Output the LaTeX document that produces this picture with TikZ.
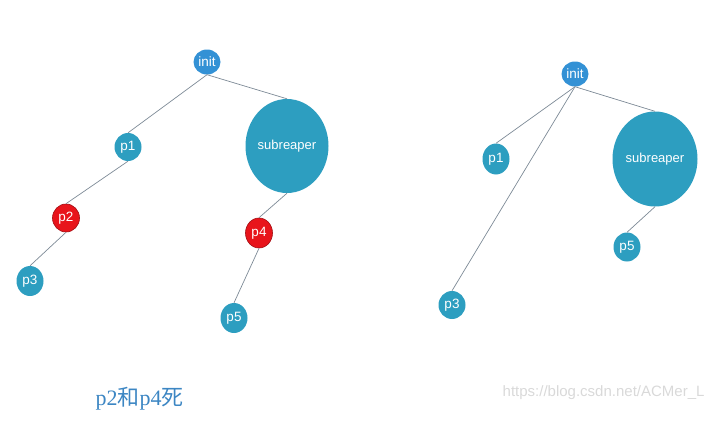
\documentclass[tikz,border=0pt]{standalone}
\usepackage{fontspec}
\setmainfont{Liberation Sans}
\newfontfamily\cjk{Noto Sans CJK SC}
\newfontfamily\capserif{Liberation Serif}
\usepackage{xcolor}
\usetikzlibrary{shapes.geometric}
\definecolor{initblue}{HTML}{3391D5}
\definecolor{procteal}{HTML}{2D9EC0}
\definecolor{deadred}{HTML}{E8141B}
\definecolor{edgegray}{HTML}{7D8A96}
\definecolor{captionblue}{HTML}{3C86C3}

\begin{document}
\begin{tikzpicture}[x=1pt, y=-1pt,
	proc/.style={ellipse, fill=procteal, text=white, inner sep=0pt,
		minimum width=27pt, minimum height=28pt, font=\fontsize{13.5}{13.5}\selectfont},
	initproc/.style={proc, fill=initblue, minimum height=25pt},
	deadproc/.style={proc, fill=deadred, draw=deadred!70!black, line width=0.6pt},
	bigproc/.style={proc, minimum width=83pt, minimum height=94pt, font=\fontsize{13}{13}\selectfont},
	link/.style={draw=edgegray, line width=0.7pt}]
	\useasboundingbox (0,0) rectangle (721,423);
	
	% before: p2 and p4 still alive
	\node[initproc] (initA) at (207,62) {init};
	\node[proc] (p1A) at (128,147) {p1};
	\node[bigproc] (subA) at (287,146) {subreaper};
	\node[deadproc] (p2A) at (66,218) {p2};
	\node[deadproc, minimum height=30pt] (p4A) at (259,233) {p4};
	\node[proc, minimum height=30pt] (p3A) at (30,281) {p3};
	\node[proc, minimum height=30pt] (p5A) at (234,318) {p5};
	\draw[link] (initA.south) -- (p1A.north);
	\draw[link] (initA.south) -- (subA.north);
	\draw[link] (p1A.south) -- (p2A.north);
	\draw[link] (p2A.south) -- (p3A.north);
	\draw[link] (subA.south) -- (p4A.north);
	\draw[link] (p4A.south) -- (p5A.north);
	
	% after: orphans reparented
	\node[initproc] (initB) at (575,74) {init};
	\node[proc, minimum height=31pt] (p1B) at (496,159) {p1};
	\node[bigproc, minimum width=85pt, minimum height=95pt] (subB) at (655,159) {subreaper};
	\node[proc, minimum height=29pt] (p5B) at (627,247) {p5};
	\node[proc] (p3B) at (452,305) {p3};
	\draw[link] (initB.south) -- (p1B.north);
	\draw[link] (initB.south) -- (p3B.north);
	\draw[link] (initB.south) -- (subB.north);
	\draw[link] (subB.south) -- (p5B.north);
	
	\node[anchor=west, text=captionblue, font=\fontsize{22}{22}\selectfont] (caption) at (92,399)
		{{\capserif p2}{\cjk 和}{\capserif p4}{\cjk 死}};
	\node[anchor=east, text=gray!30, font=\fontsize{15}{15}\selectfont] (mark) at (708,393)
		{https://blog.csdn.net/ACMer\_L};
\end{tikzpicture}
\end{document}
